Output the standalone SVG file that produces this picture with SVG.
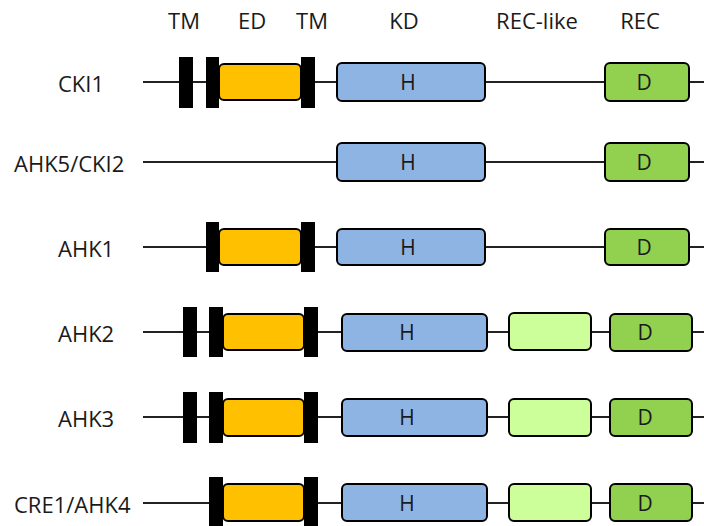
<svg xmlns="http://www.w3.org/2000/svg" width="704" height="526" viewBox="0 0 704 526">
  <style>
    text { font-family: "Open Sans", "Liberation Sans", sans-serif; font-size: 22px; fill: #1a1a1a; }
    .hdr { text-anchor: middle; }
    .mid { text-anchor: middle; font-size: 21px; }
    .bb { stroke: #222; stroke-width: 2; fill: none; }
    .tm { fill: #000; }
    .ed { fill: #FFC000; stroke: #000; stroke-width: 2; }
    .kd { fill: #8EB4E3; stroke: #000; stroke-width: 2; }
    .rec { fill: #92D050; stroke: #000; stroke-width: 2; }
    .recl { fill: #CCFF99; stroke: #000; stroke-width: 2; }
  </style>

  <!-- column headings -->
  <g id="headings">
    <text class="hdr" x="184" y="29">TM</text>
    <text class="hdr" x="252" y="29">ED</text>
    <text class="hdr" x="312" y="29">TM</text>
    <text class="hdr" x="404" y="29">KD</text>
    <text class="hdr" x="537" y="29">REC-like</text>
    <text class="hdr" x="640" y="29">REC</text>
  </g>

  <!-- backbone lines -->
  <g id="connectors">
    <line class="bb" x1="143" y1="82" x2="704" y2="82"/>
    <line class="bb" x1="143" y1="162" x2="704" y2="162"/>
    <line class="bb" x1="143" y1="247" x2="704" y2="247"/>
    <line class="bb" x1="143" y1="332" x2="704" y2="332"/>
    <line class="bb" x1="143" y1="417" x2="704" y2="417"/>
    <line class="bb" x1="143" y1="503" x2="704" y2="503"/>
  </g>

  <!-- CKI1 -->
  <g id="cki1">
    <text x="58" y="92">CKI1</text>
    <rect class="tm" x="179" y="57" width="14" height="51"/>
    <rect class="tm" x="206" y="57" width="13" height="51"/>
    <rect class="ed" x="219" y="64" width="82" height="36" rx="5"/>
    <rect class="tm" x="301" y="57" width="14" height="51"/>
    <rect class="kd" x="337" y="63" width="148" height="38" rx="5"/>
    <text class="mid" x="408" y="90">H</text>
    <rect class="rec" x="605" y="63" width="84" height="38" rx="5"/>
    <text class="mid" x="644" y="90">D</text>
  </g>

  <!-- AHK5/CKI2 -->
  <g id="ahk5">
    <text x="14" y="172">AHK5/CKI2</text>
    <rect class="kd" x="337" y="143" width="148" height="38" rx="5"/>
    <text class="mid" x="408" y="170">H</text>
    <rect class="rec" x="605" y="143" width="84" height="38" rx="5"/>
    <text class="mid" x="644" y="170">D</text>
  </g>

  <!-- AHK1 -->
  <g id="ahk1">
    <text x="58" y="257">AHK1</text>
    <rect class="tm" x="206" y="222" width="13" height="50"/>
    <rect class="ed" x="219" y="229" width="82" height="36" rx="5"/>
    <rect class="tm" x="301" y="222" width="14" height="50"/>
    <rect class="kd" x="337" y="229" width="148" height="36" rx="5"/>
    <text class="mid" x="408" y="255">H</text>
    <rect class="rec" x="605" y="229" width="84" height="36" rx="5"/>
    <text class="mid" x="644" y="255">D</text>
  </g>

  <!-- AHK2 -->
  <g id="ahk2">
    <text x="58" y="342">AHK2</text>
    <rect class="tm" x="183" y="307" width="14" height="50"/>
    <rect class="tm" x="209" y="307" width="14" height="50"/>
    <rect class="ed" x="223" y="314" width="81" height="36" rx="5"/>
    <rect class="tm" x="304" y="307" width="14" height="50"/>
    <rect class="kd" x="342" y="314" width="145" height="37" rx="5"/>
    <text class="mid" x="407" y="340">H</text>
    <rect class="recl" x="509" y="313" width="82" height="37" rx="5"/>
    <rect class="rec" x="610" y="314" width="82" height="37" rx="5"/>
    <text class="mid" x="645" y="340">D</text>
  </g>

  <!-- AHK3 -->
  <g id="ahk3">
    <text x="58" y="427">AHK3</text>
    <rect class="tm" x="183" y="392" width="14" height="51"/>
    <rect class="tm" x="209" y="392" width="14" height="51"/>
    <rect class="ed" x="223" y="399" width="81" height="37" rx="5"/>
    <rect class="tm" x="304" y="392" width="14" height="51"/>
    <rect class="kd" x="342" y="399" width="145" height="37" rx="5"/>
    <text class="mid" x="407" y="425">H</text>
    <rect class="recl" x="509" y="399" width="82" height="37" rx="5"/>
    <rect class="rec" x="610" y="399" width="82" height="37" rx="5"/>
    <text class="mid" x="645" y="425">D</text>
  </g>

  <!-- CRE1/AHK4 -->
  <g id="cre1">
    <text x="14" y="513">CRE1/AHK4</text>
    <rect class="tm" x="209" y="477" width="14" height="52"/>
    <rect class="ed" x="223" y="484" width="81" height="37" rx="5"/>
    <rect class="tm" x="304" y="477" width="14" height="52"/>
    <rect class="kd" x="342" y="484" width="145" height="37" rx="5"/>
    <text class="mid" x="407" y="511">H</text>
    <rect class="recl" x="509" y="484" width="82" height="37" rx="5"/>
    <rect class="rec" x="610" y="484" width="82" height="37" rx="5"/>
    <text class="mid" x="645" y="511">D</text>
  </g>
</svg>
